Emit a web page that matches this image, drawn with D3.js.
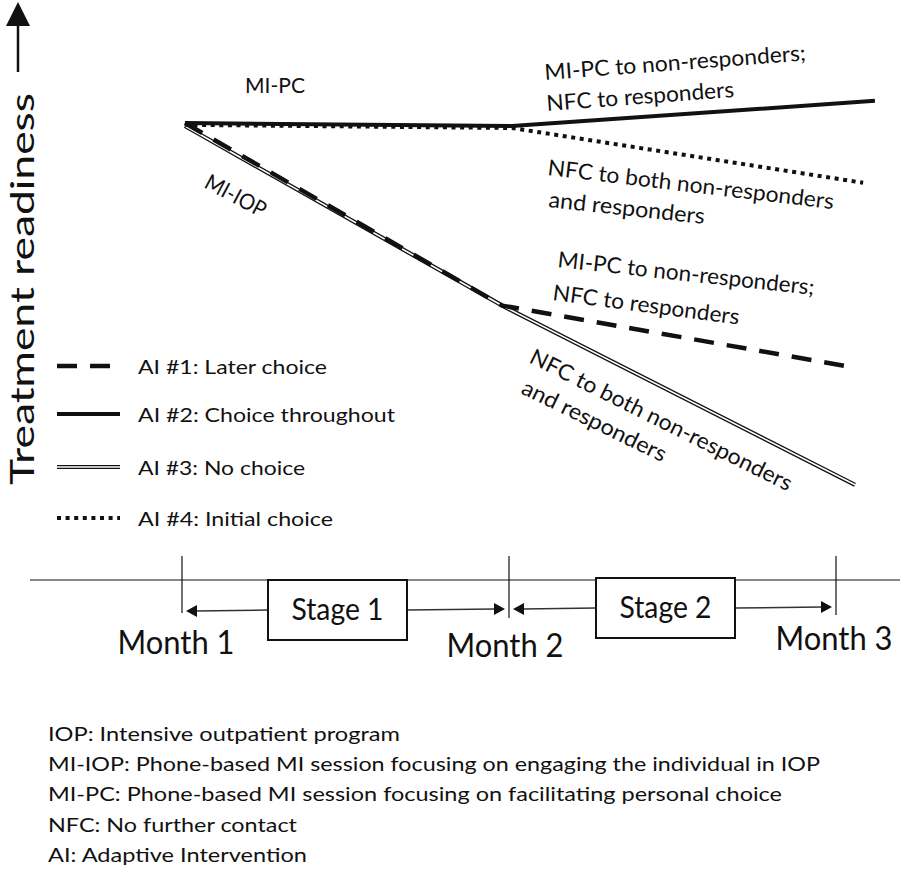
<!DOCTYPE html>
<html><head><meta charset="utf-8">
<script src="https://cdn.jsdelivr.net/npm/d3@7"></script>
<style>
body{margin:0;background:#fff}
svg{display:block}
text{font-family:Lato,"Open Sans",sans-serif;fill:#111}
</style>
</head><body>
<svg id="c" width="900" height="869"></svg>
<script>
// ---------- data ----------
const months = [1, 2, 3];
const monthLabels = ["Month 1", "Month 2", "Month 3"];
const stageLabels = ["Stage 1", "Stage 2"];
const seriesNames = ["AI #1: Later choice", "AI #2: Choice throughout", "AI #3: No choice", "AI #4: Initial choice"];
// time positions (months) and treatment readiness (arbitrary 0-100 units)
const ai1X = [1.009, 1.979, 3.043];
const ai1Y = [94.25, 48.6, 33.3];
const ai2X = [1.009, 2.009, 3.119];
const ai2Y = [94.25, 93.5, 99.8];
const ai3X = [1.009, 1.988, 3.058];
const ai3Y = [93.5, 48.2, 3.8];
const ai4X = [1.009, 2.009, 3.083];
const ai4Y = [93.8, 93.0, 79.3];
const notes = [
  "IOP: Intensive outpatient program",
  "MI-IOP: Phone-based MI session focusing on engaging the individual in IOP",
  "MI-PC: Phone-based MI session focusing on facilitating personal choice",
  "NFC: No further contact",
  "AI: Adaptive Intervention"
];

// ---------- scales ----------
const svg = d3.select("#c");
const x = d3.scaleLinear().domain([1, 3]).range([182, 836]);
const y = d3.scaleLinear().domain([0, 100]).range([500, 100]);
const line = d3.line().x(d => x(d[0])).y(d => y(d[1]));
const zip = (a, b) => a.map((v, i) => [v, b[i]]);

const styles = [
  {kind: "dash", width: 4.5, dash: "20 13"},
  {kind: "solid", width: 4},
  {kind: "double"},
  {kind: "dot", width: 4, dash: "4 4.6"}
];
const series = [zip(ai1X, ai1Y), zip(ai2X, ai2Y), zip(ai3X, ai3Y), zip(ai4X, ai4Y)];

function drawPath(g, d, st) {
  if (st.kind === "double") {
    g.append("path").attr("d", d).attr("fill", "none").attr("stroke", "#111").attr("stroke-width", 4.2);
    g.append("path").attr("d", d).attr("fill", "none").attr("stroke", "#fff").attr("stroke-width", 1.6);
  } else {
    const p = g.append("path").attr("d", d).attr("fill", "none").attr("stroke", "#111")
      .attr("stroke-width", st.width);
    if (st.dash) p.attr("stroke-dasharray", st.dash);
  }
}

// ---------- lines (order: double, dashed, dotted, solid) ----------
const lg = svg.append("g");
[2, 0, 3, 1].forEach(i => drawPath(lg, line(series[i]), styles[i]));

// ---------- annotations ----------
function label(t, px, py, ang, len, size) {
  svg.append("text").attr("transform", `translate(${px},${py}) rotate(${ang})`)
    .attr("font-size", size).attr("textLength", len).attr("lengthAdjust", "spacingAndGlyphs").text(t);
}
label("MI-PC", 245, 93, 0, 60, 22);
label("MI-IOP", 203, 187, 28, 66, 22);
label("MI-PC to non-responders;", 545, 80, -4.3, 262, 22);
label("NFC to responders", 547, 111, -4.3, 188, 22);
label("NFC to both non-responders", 547, 175, 6.8, 288, 22);
label("and responders", 548, 207, 6.2, 157, 22);
label("MI-PC to non-responders;", 557, 267, 6.2, 258, 22);
label("NFC to responders", 552, 300, 7.5, 188, 22);
label("NFC to both non-responders", 528, 362, 26.5, 290, 22);
label("and responders", 520, 393, 26, 158, 22);

// ---------- y axis label + arrow ----------
svg.append("text").attr("transform", "translate(34,485) rotate(-90)")
  .attr("font-size", 32).attr("textLength", 392).attr("lengthAdjust", "spacingAndGlyphs")
  .text("Treatment readiness");
svg.append("line").attr("x1", 18).attr("x2", 18).attr("y1", 72).attr("y2", 24)
  .attr("stroke", "#111").attr("stroke-width", 2.5);
svg.append("path").attr("d", "M18,2 L6,26 L30,26 Z").attr("fill", "#111");

// ---------- legend ----------
const legRows = [366, 414, 467, 518];
const legWidths = [189, 257, 167, 195];
const leg = svg.append("g");
seriesNames.forEach((n, i) => {
  const x1 = 57, x2 = i === 0 ? 110 : 120;
  drawPath(leg, `M${x1},${legRows[i]}L${x2},${legRows[i]}`, styles[i]);
  leg.append("text").attr("x", 138).attr("y", legRows[i] + 8).attr("font-size", 20)
    .attr("textLength", legWidths[i]).attr("lengthAdjust", "spacingAndGlyphs").text(n);
});

// ---------- timeline ----------
const tl = svg.append("g");
tl.append("line").attr("x1", 30).attr("x2", 900).attr("y1", 580).attr("y2", 580)
  .attr("stroke", "#111").attr("stroke-width", 1.2);
const tickBottoms = [613, 618, 615];
const labelBase = [654, 657, 650];
months.forEach((m, i) => {
  tl.append("line").attr("x1", x(m)).attr("x2", x(m)).attr("y1", 556).attr("y2", tickBottoms[i])
    .attr("stroke", "#111").attr("stroke-width", 1.2);
  tl.append("text").attr("x", x(m) - 6 + i * 2).attr("y", labelBase[i]).attr("text-anchor", "middle")
    .attr("font-size", 32).attr("textLength", 117).attr("lengthAdjust", "spacingAndGlyphs")
    .text(monthLabels[i]);
});
// stage boxes between months
const boxW = 139, boxTop = [580, 578], arrowY = [610, 608];
stageLabels.forEach((s, i) => {
  const a = x(months[i]), b = x(months[i + 1]);
  const cx = (a + b) / 2 + (i === 0 ? -8 : -7);
  const bx = cx - boxW / 2;
  const ay = arrowY[i];
  const arrowL = a + 4, arrowR = b - 4;
  tl.append("line").attr("x1", bx).attr("x2", arrowL + 10).attr("y1", ay).attr("y2", ay + 1)
    .attr("stroke", "#333").attr("stroke-width", 1.5);
  tl.append("path").attr("d", `M${arrowL},${ay + 1} L${arrowL + 11},${ay - 5} L${arrowL + 11},${ay + 7} Z`).attr("fill", "#111");
  tl.append("line").attr("x1", bx + boxW).attr("x2", arrowR - 10).attr("y1", ay).attr("y2", ay - 1)
    .attr("stroke", "#333").attr("stroke-width", 1.5);
  tl.append("path").attr("d", `M${arrowR},${ay - 1} L${arrowR - 11},${ay - 7} L${arrowR - 11},${ay + 5} Z`).attr("fill", "#111");
  tl.append("rect").attr("x", bx).attr("y", boxTop[i]).attr("width", boxW).attr("height", 60)
    .attr("fill", "#fff").attr("stroke", "#111").attr("stroke-width", 2);
  tl.append("text").attr("x", cx).attr("y", boxTop[i] + 40).attr("text-anchor", "middle")
    .attr("font-size", 30).attr("textLength", 92).attr("lengthAdjust", "spacingAndGlyphs").text(s);
});

// ---------- notes ----------
const noteWidths = [352, 772, 734, 249, 259];
notes.forEach((n, i) => {
  svg.append("text").attr("x", 48).attr("y", 741 + i * 30.2).attr("font-size", 20)
    .attr("textLength", noteWidths[i]).attr("lengthAdjust", "spacingAndGlyphs").text(n);
});
</script>
</body></html>
